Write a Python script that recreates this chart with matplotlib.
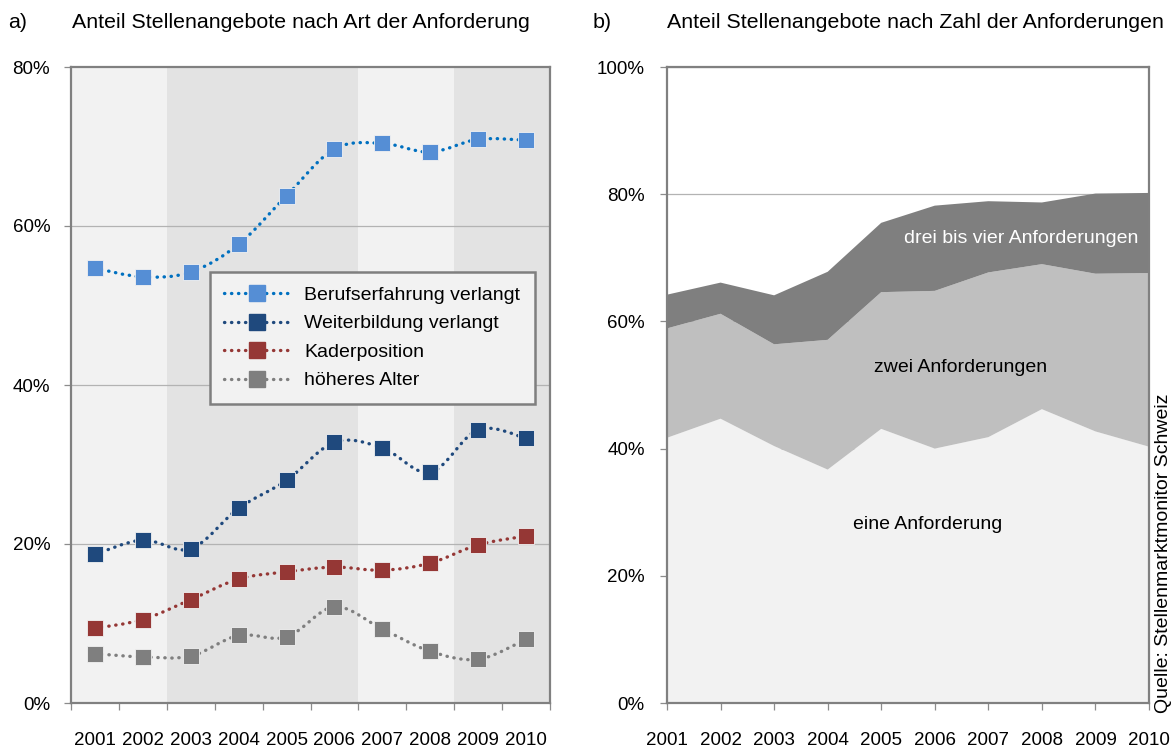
import matplotlib
matplotlib.use("Agg")
import matplotlib.pyplot as plt
import numpy as np
from matplotlib.path import Path
from matplotlib.patches import PathPatch
from matplotlib.lines import Line2D

plt.rcParams["font.family"] = ["Liberation Sans", "DejaVu Sans"]

YEARS = ["2001", "2002", "2003", "2004", "2005", "2006", "2007", "2008", "2009", "2010"]

# a) Anteil nach Art der Anforderung (%)
beruf   = [54.7, 53.6, 54.2, 57.7, 63.8, 69.7, 70.4, 69.3, 70.9, 70.8]
weiter  = [18.7, 20.5, 19.4, 24.5, 28.0, 32.8, 32.1, 29.0, 34.4, 33.3]
kader   = [9.4, 10.5, 13.0, 15.6, 16.5, 17.1, 16.7, 17.6, 19.9, 21.0]
alter   = [6.2, 5.8, 5.9, 8.5, 8.3, 12.1, 9.3, 6.5, 5.5, 8.0]

SERIES_A = ["Berufserfahrung verlangt", "Weiterbildung verlangt", "Kaderposition", "höheres Alter"]
LINE_COL = ["#0070c0", "#1f497d", "#953735", "#7f7f7f"]
MARK_COL = ["#558ed5", "#1f497d", "#953735", "#7f7f7f"]

# b) Anteil nach Zahl der Anforderungen (%), gestapelt
eine = [41.7, 44.7, 40.4, 36.7, 43.1, 40.0, 41.8, 46.2, 42.7, 40.3]
zwei = [17.2, 16.5, 16.0, 20.4, 21.5, 24.8, 25.9, 22.8, 24.8, 27.3]
drei = [5.3, 4.9, 7.7, 10.7, 10.9, 13.4, 11.2, 9.7, 12.6, 12.6]
AREA_LABELS = ["eine Anforderung", "zwei Anforderungen", "drei bis vier Anforderungen"]
AREA_COL = ["#f2f2f2", "#bfbfbf", "#7f7f7f"]

GRAY = "#8c8c8c"
FS = 13.5


def smooth_path(x, y):
    # excel-style smoothed line: cubic bezier through every point
    pts = np.column_stack([x, y]).astype(float)
    n = len(pts)
    verts = [pts[0]]
    codes = [Path.MOVETO]
    for i in range(n - 1):
        p0 = pts[i - 1] if i > 0 else pts[i]
        p1 = pts[i]
        p2 = pts[i + 1]
        p3 = pts[i + 2] if i + 2 < n else pts[i + 1]
        c1 = p1 + (p2 - p0) / 6
        c2 = p2 - (p3 - p1) / 6
        verts += [c1, c2, p2]
        codes += [Path.CURVE4] * 3
    return Path(verts, codes)


fig = plt.figure(figsize=(11.75, 7.49), dpi=100)
ax1 = fig.add_axes([71 / 1175, 1 - 703 / 749, 479 / 1175, 636 / 749])
ax2 = fig.add_axes([667 / 1175, 1 - 703 / 749, 482 / 1175, 636 / 749])

# ---- a)
x = np.arange(len(YEARS))
ax1.set_xlim(-0.5, 9.5)
ax1.set_ylim(0, 80)
for a, b, c in [(-0.5, 1.5, "#f2f2f2"), (1.5, 5.5, "#e3e3e3"), (5.5, 7.5, "#f2f2f2"), (7.5, 9.5, "#e3e3e3")]:
    ax1.axvspan(a, b, color=c, zorder=0, lw=0)
for g in [20, 40, 60]:
    ax1.axhline(g, color="#b3b3b3", lw=0.9, zorder=1)

handles = []
for vals, name, lc, mc in zip([beruf, weiter, kader, alter], SERIES_A, LINE_COL, MARK_COL):
    patch = PathPatch(smooth_path(x, vals), facecolor="none", edgecolor=lc, lw=2.4,
                      linestyle=(0, (0.1, 2.0)), zorder=3)
    patch.set_capstyle("round")
    ax1.add_patch(patch)
    ax1.plot(x, vals, ls="none", marker="s", ms=12, mfc=mc, mec="#f2f2f2", mew=0.6, zorder=4)
    handles.append(Line2D([], [], color=lc, lw=2.4, ls=(0, (0.1, 2.0)), dash_capstyle="round",
                          marker="s", ms=12, mfc=mc, mec=mc))

leg = ax1.legend(handles, SERIES_A, loc="upper left", bbox_to_anchor=(0.29, 0.678),
                 borderaxespad=0, fontsize=14, frameon=True, fancybox=False, framealpha=1,
                 handlelength=3.3, handletextpad=0.8, labelspacing=0.56, borderpad=0.75)
leg.get_frame().set_facecolor("#f2f2f2")
leg.get_frame().set_edgecolor("#7f7f7f")
leg.get_frame().set_linewidth(1.8)

ax1.set_yticks([0, 20, 40, 60, 80])
ax1.set_yticklabels(["0%", "20%", "40%", "60%", "80%"])
ax1.set_xticks(x)
ax1.set_xticklabels(YEARS)
ax1.set_xticks(np.arange(-0.5, 10, 1), minor=True)
ax1.tick_params(axis="x", which="major", length=0, pad=21, labelsize=FS)
ax1.tick_params(axis="x", which="minor", length=5, color=GRAY, width=0.9)
ax1.tick_params(axis="y", length=5, color=GRAY, width=0.9, pad=10, labelsize=FS)
for s in ax1.spines.values():
    s.set_color("#808080")
    s.set_linewidth(1.6)

# ---- b)
ax2.set_xlim(0, 9)
ax2.set_ylim(0, 100)
ax2.set_axisbelow(True)
ax2.yaxis.grid(True, color="#b3b3b3", lw=0.9)
ax2.stackplot(x, eine, zwei, drei, colors=AREA_COL, lw=0, zorder=2)
ax2.text(4.87, 28.0, AREA_LABELS[0], ha="center", va="center", fontsize=14, color="black", zorder=3)
ax2.text(5.49, 52.8, AREA_LABELS[1], ha="center", va="center", fontsize=14, color="black", zorder=3)
ax2.text(6.61, 73.1, AREA_LABELS[2], ha="center", va="center", fontsize=14, color="white", zorder=3)

ax2.set_yticks([0, 20, 40, 60, 80, 100])
ax2.set_yticklabels(["0%", "20%", "40%", "60%", "80%", "100%"])
ax2.set_xticks(x)
ax2.set_xticklabels(YEARS)
ax2.tick_params(axis="x", length=5, color=GRAY, width=0.9, pad=16, labelsize=FS)
ax2.tick_params(axis="y", length=5, color=GRAY, width=0.9, pad=11, labelsize=FS)
for s in ax2.spines.values():
    s.set_color("#808080")
    s.set_linewidth(1.6)

# titles
TFS = 15.4
fig.text(8 / 1175, 1 - 22 / 749, "a)", fontsize=TFS, va="center", ha="left")
fig.text(72 / 1175, 1 - 22 / 749, "Anteil Stellenangebote nach Art der Anforderung", fontsize=TFS, va="center", ha="left")
fig.text(593 / 1175, 1 - 22 / 749, "b)", fontsize=TFS, va="center", ha="left")
fig.text(667 / 1175, 1 - 22 / 749, "Anteil Stellenangebote nach Zahl der Anforderungen", fontsize=TFS, va="center", ha="left")
fig.text(1164 / 1175, 36 / 749, "Quelle: Stellenmarktmonitor Schweiz", fontsize=14, rotation=90,
         ha="center", va="bottom")

fig.savefig("out.png", dpi=100)
